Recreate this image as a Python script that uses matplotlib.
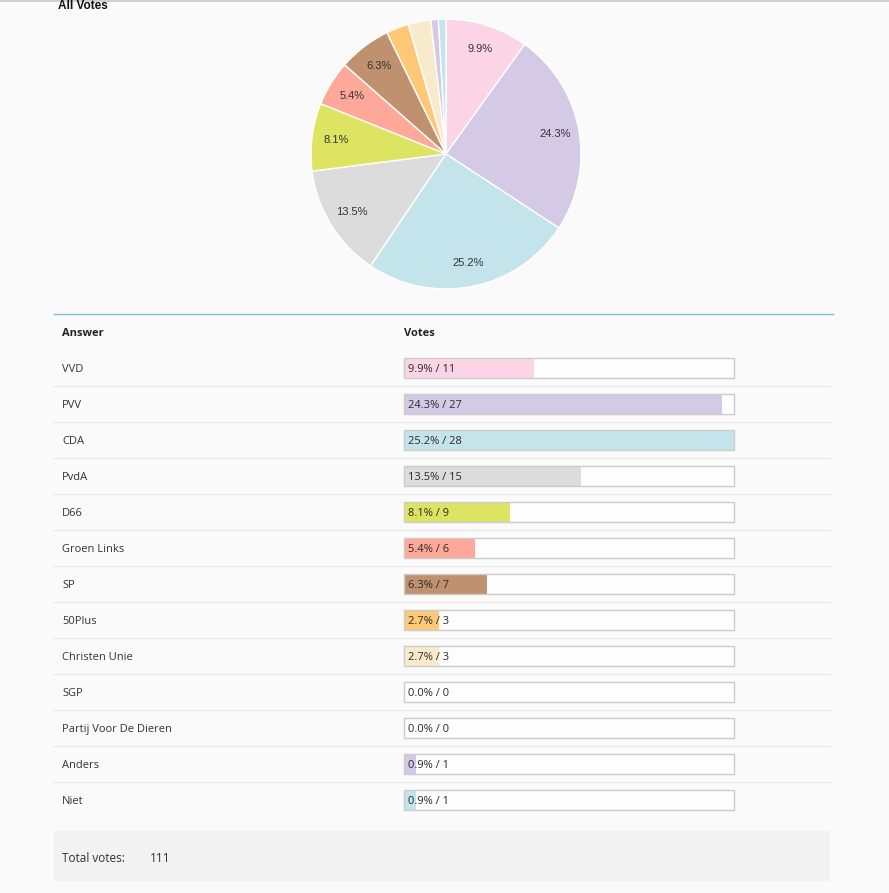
import matplotlib.pyplot as plt

answers = ["VVD", "PVV", "CDA", "PvdA", "D66", "Groen Links", "SP", "50Plus",
           "Christen Unie", "SGP", "Partij Voor De Dieren", "Anders", "Niet"]
votes = [11, 27, 28, 15, 9, 6, 7, 3, 3, 0, 0, 1, 1]
colors = ["#fbd5e6", "#d5cae6", "#c4e4ec", "#dcdcdc", "#dde462", "#fea89a",
          "#bf916f", "#fec877", "#f8ebcc", "#e0e0e0", "#e0e0e0", "#d5cae6", "#c4e4ec"]

total = sum(votes)
pcts = [100 * v / total for v in votes]

W, H = 889, 893
BG = "#fafafa"
fig = plt.figure(figsize=(W / 100, H / 100), dpi=100, facecolor=BG)


def box(x0, y0, x1, y1):
    # pixel box (top-left origin) -> figure fraction
    return [x0 / W, 1 - y1 / H, (x1 - x0) / W, (y1 - y0) / H]


# background layer for lines and text
bg = fig.add_axes([0, 0, 1, 1])
bg.set_xlim(0, W)
bg.set_ylim(H, 0)
bg.axis("off")
bg.set_facecolor(BG)

bg.plot([0, W], [1, 1], color="#c8c8c8", lw=1.2)
bg.text(58, 6, "All Votes", fontsize=8.5, fontweight="bold",
        family="Liberation Sans", color="#111", va="center")

# pie
pie_ax = fig.add_axes(box(311, 19, 581, 289))
pv = [v for v in votes if v > 0]
pc = [c for v, c in zip(votes, colors) if v > 0]
pie_ax.pie(pv, colors=pc, startangle=90, counterclock=False,
           wedgeprops=dict(edgecolor="white", linewidth=1),
           autopct=lambda p: f"{p:.1f}%" if p > 4 else "",
           pctdistance=0.82,
           textprops=dict(fontsize=8, family="Liberation Sans", color="#333"))
pie_ax.set_xlim(-1, 1)
pie_ax.set_ylim(-1, 1)
pie_ax.set_aspect("equal")

# table
bg.plot([54, 833], [314, 314], color="#7fbfd6", lw=1)
font = ["Open Sans", "DejaVu Sans"]
bg.text(62, 334, "Answer", fontsize=8, fontweight="bold", family=font,
        color="#222", va="center")
bg.text(404, 334, "Votes", fontsize=8, fontweight="bold", family=font,
        color="#222", va="center")

row0, step = 368, 36
for i, name in enumerate(answers):
    y = row0 + i * step
    bg.text(62, y + 1.5, name, fontsize=8, family=font, color="#333", va="center")
    if i < len(answers) - 1:
        bg.plot([54, 830], [y + 18, y + 18], color="#e6e6e6", lw=0.8)

bar_ax = fig.add_axes(box(404, row0 - 18, 734, row0 + (len(answers) - 1) * step + 18))
bar_ax.set_xlim(0, max(votes))
bar_ax.set_ylim(len(answers) - 0.5, -0.5)
bar_ax.axis("off")
rows = list(range(len(answers)))
bar_ax.barh(rows, [max(votes)] * len(rows), height=0.56, color="#fdfdfd", zorder=1)
bar_ax.barh(rows, votes, height=0.56, color=colors, zorder=2)
bar_ax.barh(rows, [max(votes)] * len(rows), height=0.56, fill=False,
            edgecolor="#cccccc", linewidth=1, zorder=3, clip_on=False)
for i, (v, p) in enumerate(zip(votes, pcts)):
    bar_ax.annotate(f"{p:.1f}% / {v}", xy=(0, i), xytext=(3, -1),
                    textcoords="offset points", va="center", fontsize=8,
                    family=font, color="#2a2a2a", zorder=4)

# total votes box
bg.add_patch(plt.Rectangle((54, 831), 776, 50, color="#f2f2f2", lw=0))
bg.text(62, 858, "Total votes:", fontsize=8.5, family=font, color="#333", va="center")
bg.text(150, 858, str(total), fontsize=8.5, family=font, color="#333", va="center")

fig.savefig("out.png", dpi=100, facecolor=BG)
